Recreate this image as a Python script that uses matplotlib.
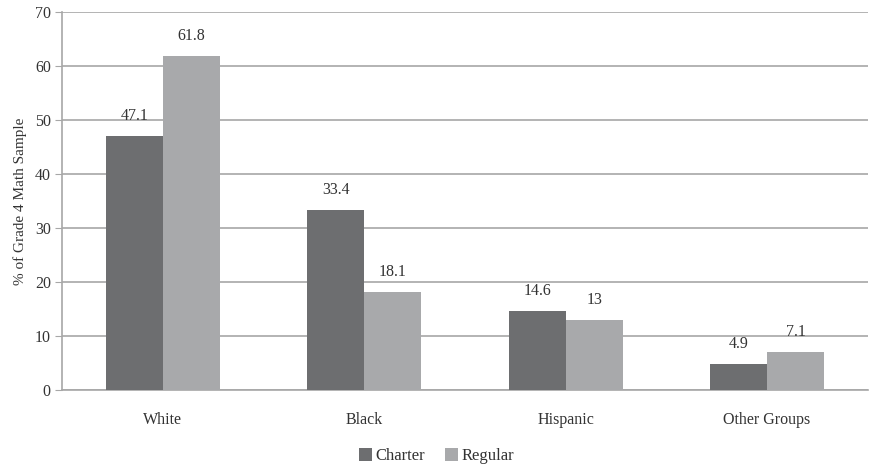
import numpy as np
import matplotlib
matplotlib.use("Agg")
import matplotlib.pyplot as plt

plt.rcParams['font.family'] = ['Liberation Serif', 'DejaVu Serif']

# data
groups = ["White", "Black", "Hispanic", "Other Groups"]
charter = [47.1, 33.4, 14.6, 4.9]
regular = [61.8, 18.1, 13, 7.1]
charter_labels = ["47.1", "33.4", "14.6", "4.9"]
regular_labels = ["61.8", "18.1", "13", "7.1"]

fig = plt.figure(figsize=(8.73, 4.71), dpi=100)
ax = fig.add_axes([0.071, 0.172, 0.923, 0.803])

x = np.arange(len(groups))
w = 0.283
b1 = ax.bar(x - w / 2, charter, w, color='#6d6e70', label='Charter', zorder=3)
b2 = ax.bar(x + w / 2, regular, w, color='#a8a9ab', label='Regular', zorder=3)

for rect, lab in zip(b1, charter_labels):
    ax.text(rect.get_x() + rect.get_width() / 2, rect.get_height() + 2.2, lab,
            ha='center', va='bottom', fontsize=11.5, color='#333333')
for rect, lab in zip(b2, regular_labels):
    ax.text(rect.get_x() + rect.get_width() / 2, rect.get_height() + 2.2, lab,
            ha='center', va='bottom', fontsize=11.5, color='#333333')

ax.set_xlim(-0.5, 3.5)
ax.set_ylim(0, 70)
ax.set_yticks(range(0, 71, 10))
ax.set_xticks(x)
ax.set_xticklabels(groups)
ax.yaxis.grid(True, color='#a7a7a7', linewidth=1.2, zorder=0)
ax.set_axisbelow(True)

for s in ['top', 'right']:
    ax.spines[s].set_visible(False)
ax.spines['left'].set_color('#a7a7a7')
ax.spines['bottom'].set_color('#a7a7a7')
ax.spines['left'].set_linewidth(1.2)
ax.spines['bottom'].set_linewidth(1.2)

ax.tick_params(axis='y', length=5, color='#a7a7a7', labelsize=11.5, labelcolor='#333333', pad=3)
ax.tick_params(axis='x', length=0, labelsize=11.5, labelcolor='#333333', pad=16)
ax.set_ylabel("% of Grade 4 Math Sample", fontsize=11, color='#333333', labelpad=6)

fig.legend(handles=[b1, b2], loc='lower center', bbox_to_anchor=(0.5, -0.018), ncol=2,
           frameon=False, fontsize=12, handlelength=0.8, handleheight=0.8,
           handletextpad=0.2, columnspacing=1.2, labelcolor='#333333')

fig.savefig("out.png", dpi=100)
